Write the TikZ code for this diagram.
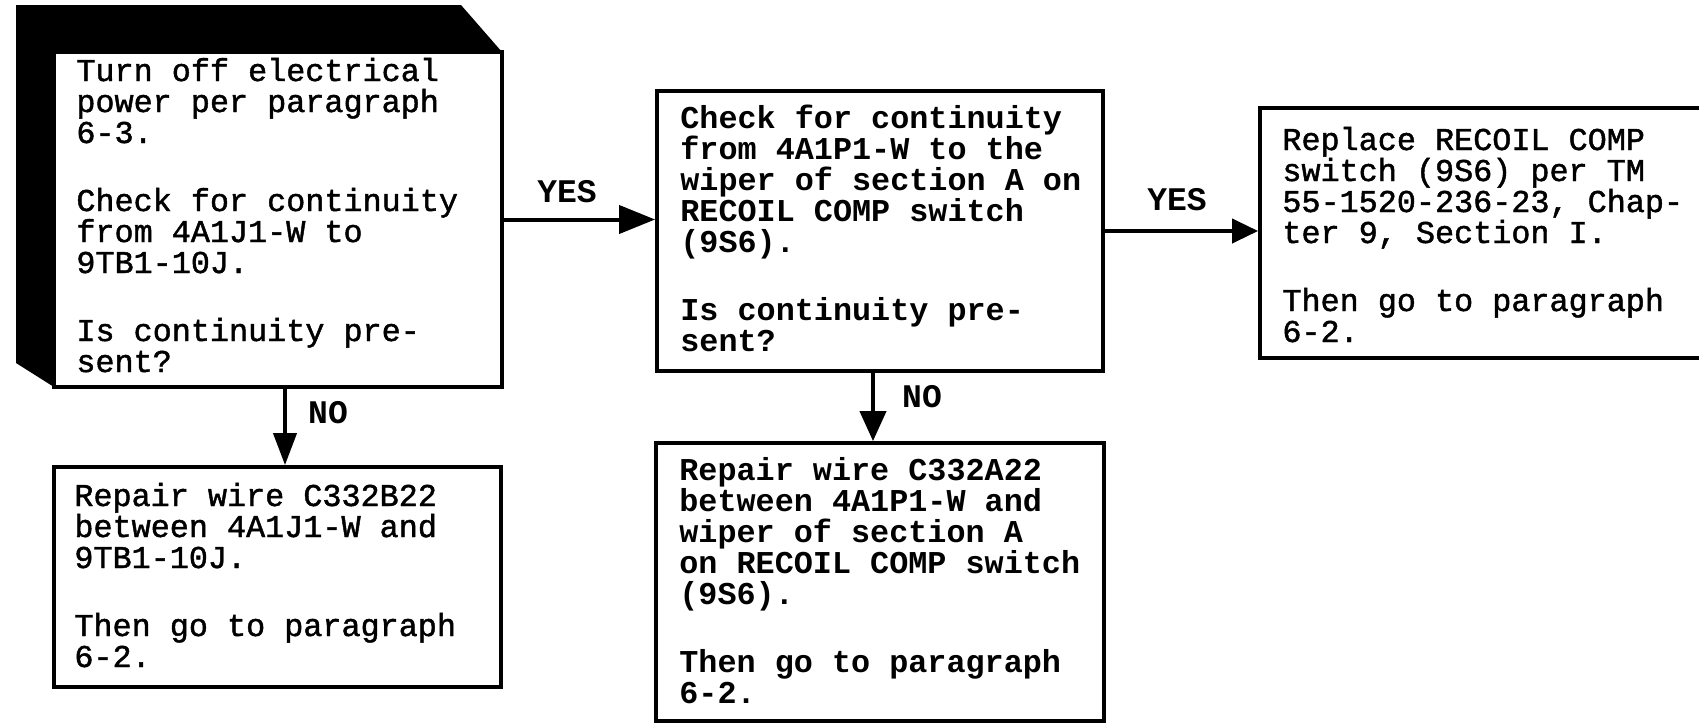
\documentclass[tikz,border=0pt]{standalone}
\usepackage{fontspec}
\usetikzlibrary{arrows.meta}
\newfontfamily\twA[FakeBold=1.4]{Liberation Mono}
\newfontfamily\twB{Liberation Mono}
\begin{document}
\begin{tikzpicture}[x=0.5pt,y=-0.5pt,
  box/.style={draw=black, line width=1.9pt, fill=white, inner sep=0pt},
  arr/.style={line width=2pt, -{Triangle[length=16pt,width=13pt]}},
  lab/.style={font=\twB\bfseries\fontsize{16.5}{16.5}\selectfont, inner sep=0pt},
  txtA/.style={align=left, inner sep=0pt, anchor=base west, font=\twA\fontsize{15.9}{15.5}\selectfont},
  txtB/.style={align=left, inner sep=0pt, anchor=base west, font=\twB\bfseries\fontsize{15.9}{15.5}\selectfont}]
\fill[white] (0,0) rectangle (1699,723);
\useasboundingbox (0,0) rectangle (1699,723);
\clip (0,0) rectangle (1699,723);
% 3D shadow of first box
\fill[black] (16,5) -- (461,5) -- (502,52) -- (502,387) -- (54,387) -- (16,363) -- cycle;
% boxes
\node[box, minimum width=224pt, minimum height=167.5pt] (b1) at (278,219.5) {};
\node[box, minimum width=223pt, minimum height=140pt] (b2) at (880,231) {};
\node[box, minimum width=230pt, minimum height=125pt] (b3) at (1490,233) {};
\node[box, minimum width=223.5pt, minimum height=110pt] (b4) at (277.5,577) {};
\node[box, minimum width=224pt, minimum height=139pt] (b5) at (880,582) {};
% texts (anchored at the baseline of their last line)
\node[txtA] (t1) at (76,372) {Turn off electrical\\power per paragraph\\6-3.\\[18.5pt]Check for continuity\\from 4A1J1-W to\\9TB1-10J.\\[18.5pt]Is continuity pre-\\sent?};
\node[txtB] (t2) at (680,351) {Check for continuity\\from 4A1P1-W to the\\wiper of section A on\\RECOIL COMP switch\\(9S6).\\[18.5pt]Is continuity pre-\\sent?};
\node[txtA] (t3) at (1282,342) {Replace RECOIL COMP\\switch (9S6) per TM\\55-1520-236-23, Chap-\\ter 9, Section I.\\[18.5pt]Then go to paragraph\\6-2.};
\node[txtA] (t4) at (74,667) {Repair wire C332B22\\between 4A1J1-W and\\9TB1-10J.\\[18.5pt]Then go to paragraph\\6-2.};
\node[txtB] (t5) at (679,703) {Repair wire C332A22\\between 4A1P1-W and\\wiper of section A\\on RECOIL COMP switch\\(9S6).\\[18.5pt]Then go to paragraph\\6-2.};
% connectors
\draw[arr, -{Triangle[length=18pt,width=14pt]}] (b1.east) -- (b1.east -| b2.west);
\draw[arr, -{Triangle[length=13pt,width=12pt]}] (b2.east) -- (b2.east -| b3.west);
\draw[arr, -{Triangle[length=16pt,width=11.5pt]}] ([xshift=3.5pt]b1.south) -- ([xshift=3.5pt]b1.south |- b4.north);
\draw[arr, -{Triangle[length=15pt,width=13pt]}] ([xshift=-3.5pt]b2.south) -- ([xshift=-3.5pt]b2.south |- b5.north);
% labels
\node[lab] (y1) at (567,192) {YES};
\node[lab] (y2) at (1177,200) {YES};
\node[lab] (n1) at (328,413) {NO};
\node[lab] (n2) at (922,397) {NO};
\end{tikzpicture}
\end{document}
